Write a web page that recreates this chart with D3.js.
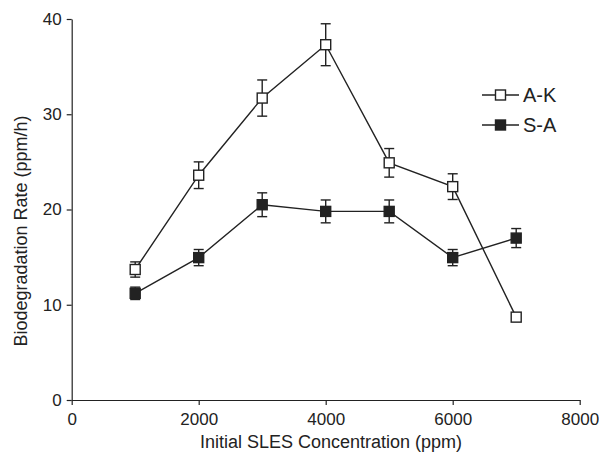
<!DOCTYPE html>
<html>
<head>
<meta charset="utf-8">
<script src="https://cdn.jsdelivr.net/npm/d3@7"></script>
<style>
  html, body { margin: 0; padding: 0; background: #fff; }
  svg { display: block; }
  text { font-family: "Liberation Sans", Arial, Helvetica, sans-serif; fill: #222; }
</style>
</head>
<body>
<svg id="chart" width="599" height="454"></svg>
<script>
// Data
const concentrations = [1000, 2000, 3000, 4000, 5000, 6000, 7000];
const akValues = [13.7, 23.6, 31.7, 37.3, 24.9, 22.4, 8.7];
const akErrors = [0.8, 1.4, 1.9, 2.2, 1.5, 1.35, 0];
const saValues = [11.2, 14.95, 20.5, 19.8, 19.8, 14.95, 17.0];
const saErrors = [0.65, 0.85, 1.25, 1.2, 1.2, 0.85, 1.0];
const xTicks = [0, 2000, 4000, 6000, 8000];
const yTicks = [0, 10, 20, 30, 40];
const seriesNames = ["A-K", "S-A"];

const svg = d3.select("#chart");
const margin = { left: 71.7, right: 19.3, top: 19, bottom: 54 };
const W = 599, H = 454;

const x = d3.scaleLinear().domain([0, 8000]).range([margin.left, W - margin.right]);
const y = d3.scaleLinear().domain([0, 40]).range([H - margin.bottom, margin.top]);

const ink = "#222";

// Axes
const xAxis = svg.append("g")
  .attr("transform", `translate(0,${y(0)})`)
  .call(d3.axisBottom(x).tickValues(xTicks).tickFormat(d3.format("d"))
    .tickSize(5).tickPadding(8).tickSizeOuter(0));
const yAxis = svg.append("g")
  .attr("transform", `translate(${x(0)},0)`)
  .call(d3.axisLeft(y).tickValues(yTicks).tickFormat(d3.format("d"))
    .tickSize(5).tickPadding(5).tickSizeOuter(0));

[xAxis, yAxis].forEach(a => {
  a.select(".domain").attr("stroke", ink).attr("stroke-width", 1.2);
  a.selectAll(".tick line").attr("stroke", ink).attr("stroke-width", 1.2);
  a.selectAll(".tick text")
    .attr("font-family", '"Liberation Sans", Arial, sans-serif')
    .attr("font-size", 17).attr("fill", ink);
});

// Axis titles
svg.append("text")
  .attr("x", 331)
  .attr("y", 448)
  .attr("text-anchor", "middle")
  .attr("font-size", 18)
  .text("Initial SLES Concentration (ppm)");

svg.append("text")
  .attr("transform", `translate(27,231) rotate(-90)`)
  .attr("text-anchor", "middle")
  .attr("font-size", 18)
  .text("Biodegradation Rate (ppm/h)");

const line = d3.line().x(d => x(d[0])).y(d => y(d[1]));
const ms = 10; // marker size
const capW = 5;

function drawSeries(values, errors, filled) {
  const pts = concentrations.map((c, i) => [c, values[i], errors[i]]);
  const g = svg.append("g");
  g.append("path").datum(pts)
    .attr("d", line).attr("fill", "none").attr("stroke", ink).attr("stroke-width", 1.4);
  const eb = g.selectAll(".eb").data(pts.filter(d => d[2] > 0)).enter().append("g");
  eb.append("line")
    .attr("x1", d => x(d[0])).attr("x2", d => x(d[0]))
    .attr("y1", d => y(d[1] - d[2])).attr("y2", d => y(d[1] + d[2]))
    .attr("stroke", ink).attr("stroke-width", 1.4);
  [-1, 1].forEach(s => {
    eb.append("line")
      .attr("x1", d => x(d[0]) - capW).attr("x2", d => x(d[0]) + capW)
      .attr("y1", d => y(d[1] + s * d[2])).attr("y2", d => y(d[1] + s * d[2]))
      .attr("stroke", ink).attr("stroke-width", 1.4);
  });
  g.selectAll("rect").data(pts).enter().append("rect")
    .attr("x", d => x(d[0]) - ms / 2).attr("y", d => y(d[1]) - ms / 2)
    .attr("width", ms).attr("height", ms)
    .attr("fill", filled ? ink : "#fff").attr("stroke", ink).attr("stroke-width", 1.4);
}

drawSeries(akValues, akErrors, false);
drawSeries(saValues, saErrors, true);

// Legend
const legend = svg.append("g");
seriesNames.forEach((name, i) => {
  const ly = 95 + i * 30;
  legend.append("line").attr("x1", 482).attr("x2", 519).attr("y1", ly).attr("y2", ly)
    .attr("stroke", ink).attr("stroke-width", 1.4);
  legend.append("rect").attr("x", 500.5 - ms / 2).attr("y", ly - ms / 2)
    .attr("width", ms).attr("height", ms)
    .attr("fill", i === 0 ? "#fff" : ink).attr("stroke", ink).attr("stroke-width", 1.4);
  legend.append("text").attr("x", 523).attr("y", ly + 7)
    .attr("font-size", 20).text(name);
});
</script>
</body>
</html>
